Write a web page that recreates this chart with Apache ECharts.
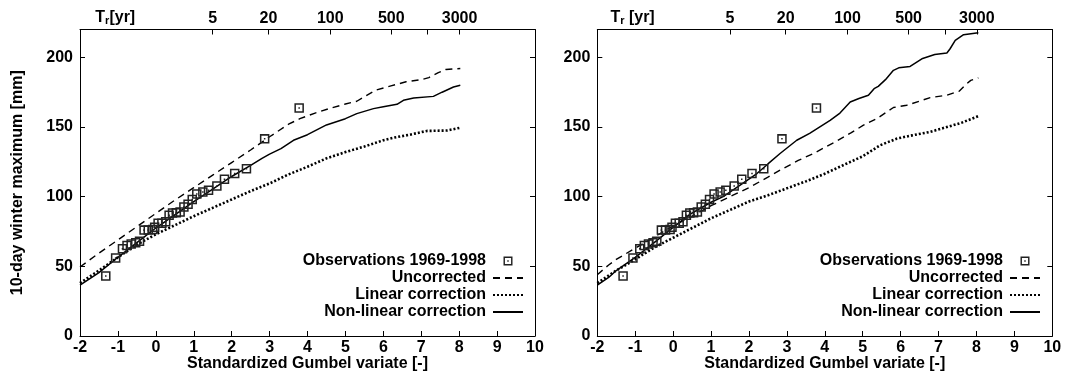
<!DOCTYPE html>
<html>
<head>
<meta charset="utf-8">
<script src="https://cdn.jsdelivr.net/npm/echarts@6/dist/echarts.min.js"></script>
<style>html,body{margin:0;padding:0;background:#fff}#c{width:1067px;height:382px}</style>
</head>
<body>
<div id="c"></div>
<script>
// ---- data ----
const obsX = [-1.32,-1.06,-0.88,-0.76,-0.65,-0.53,-0.43,-0.31,-0.20,-0.08,-0.03,0.06,0.16,0.26,0.35,0.44,0.54,0.64,0.74,0.85,0.96,1.08,1.24,1.39,1.61,1.81,2.08,2.39,2.87,3.78];
const obsY = [43,56,62.7,65,66,67,68,76,76,76.4,78,81,81,82,86.6,88.3,88.5,89,92.6,94.5,98,102,103.4,104.6,107.7,112.5,116.6,120,141.5,163.7];

const leftUncorrected = [[-2,49.5],[-1.5,59.5],[-1,69],[-0.5,78.5],[0,88],[0.5,97.5],[1,106.5],[1.5,115.5],[2,124.5],[2.5,133.5],[3,143],[3.5,152],[3.8,156],[4.2,160],[4.6,163.5],[5.0,166.5],[5.3,168.5],[5.55,172.5],[5.8,176.5],[6.2,179.5],[6.6,182.5],[7.0,184],[7.2,185.5],[7.45,189],[7.65,191.3],[8.03,192]];
const leftLinear = [[-2,38],[-1.5,47],[-1,56.5],[-0.5,65.5],[0,73],[0.5,79.5],[1,86],[1.5,92],[2,98],[2.5,104],[3,109.5],[3.5,116],[4,121.5],[4.5,127.5],[5,132],[5.5,136],[6,140.5],[6.3,142.5],[6.7,144.5],[7.15,147.2],[7.68,147.5],[8.03,149.5]];
const leftNonLinear = [[-2,36.5],[-1.5,45.5],[-1,56.5],[-0.5,67],[0,77.5],[0.5,87],[1,96.5],[1.5,105.5],[2,114.5],[2.5,122.5],[2.8,127.5],[3,130.5],[3.3,134.5],[3.63,140.5],[4,144.5],[4.5,151.5],[5,156],[5.3,159.6],[5.74,163.2],[6.0,164.5],[6.36,166.3],[6.53,169.2],[6.8,170.8],[7.32,172],[7.55,175],[7.85,178.7],[8.03,180]];

const rightUncorrected = [[-2,44],[-1.7,51],[-1.5,55],[-1,63],[-0.5,71],[0,79],[0.5,86],[1,93.5],[1.5,100],[2,106.5],[2.5,114],[2.82,119],[3.3,126],[3.7,131],[4.32,140],[4.7,146],[5.02,151.3],[5.37,156],[5.81,164],[6.16,165.6],[6.78,171.1],[7.22,172.8],[7.55,175.8],[7.7,180],[7.85,183.5],[8.05,185.3]];
const rightLinear = [[-2,38],[-1.5,47],[-1,55],[-0.5,63.5],[0,70.5],[0.5,77.5],[1,84.5],[1.5,90.5],[2,96.5],[2.5,101],[3,106],[3.5,111],[4,116.5],[4.58,123.8],[5,129],[5.46,136.9],[5.9,141.7],[6.3,144],[6.78,146.5],[7.22,150],[7.6,153],[8.05,157.8]];
const rightNonLinear = [[-2,36.6],[-1.7,42],[-1.5,47],[-1,56.5],[-0.5,67],[0,78],[0.45,87.5],[1,96],[1.32,100],[1.7,107],[2.21,116.6],[2.5,123.5],[2.82,131],[3.26,140.5],[3.6,145.5],[4.14,154.8],[4.4,160],[4.67,168],[4.9,170.5],[5.15,172.8],[5.3,177.5],[5.41,179.2],[5.6,184],[5.81,190.7],[5.95,192.5],[6.25,193.5],[6.56,199],[6.9,202],[7.22,203.1],[7.3,206],[7.44,212.2],[7.66,216.3],[8.05,217.7]];

// return period axis (top)
const trTickPos = [1.50, 2.97, 4.60, 6.21, 7.17, 8.01];
const trLabelPos = [-1.07, 1.50, 2.97, 4.60, 6.21, 8.01];
const trLabels = ['TR', '5', '20', '100', '500', '3000'];
const seriesNames = ['Observations 1969-1998', 'Uncorrected', 'Linear correction', 'Non-linear correction'];

// ---- chart ----
const FONT = '"Liberation Sans", Arial, Helvetica, sans-serif';
const FS = 16;
const txt = { fontFamily: FONT, fontSize: FS, fontWeight: 'bold', color: '#000' };
const obsSymbol = 'path://M0 0H10V10H0Z M1.6 1.6V8.4H8.4V1.6Z M4.2 4.2H5.8V5.8H4.2Z';

const grids = [
  { left: 80, top: 29.5, width: 455, height: 306.5 },
  { left: 597.3, top: 29.5, width: 455, height: 306.5 }
];

const xAxes = [], yAxes = [], series = [];
[0, 1].forEach(function (g) {
  xAxes.push({
    type: 'value', gridIndex: g, position: 'bottom', min: -2, max: 10, interval: 1,
    name: 'Standardized Gumbel variate [-]', nameLocation: 'middle', nameGap: 20,
    nameMoveOverlap: false,
    nameTextStyle: txt,
    axisLine: { onZero: false, lineStyle: { color: '#000', width: 1 } },
    axisTick: { inside: true, length: 5, lineStyle: { color: '#000' } },
    axisLabel: Object.assign({ margin: 4 }, txt),
    splitLine: { show: false }
  });
  xAxes.push({
    type: 'value', gridIndex: g, position: 'top', min: -2, max: 10,
    axisLine: { onZero: false, lineStyle: { color: '#000', width: 1 } },
    axisTick: { inside: true, length: 5, customValues: trTickPos, lineStyle: { color: '#000' } },
    axisLabel: Object.assign({
      margin: 3,
      customValues: trLabelPos,
      formatter: function (v) {
        let i = trLabelPos.findIndex(function (p) { return Math.abs(p - v) < 1e-6; });
        if (i < 0) return '';
        if (i === 0) return g === 0 ? '{t|T}{s|r}{t|[yr]}' : '{t|T}{s|r}{t| [yr]}';
        return trLabels[i];
      },
      rich: {
        t: { fontFamily: FONT, fontSize: FS, fontWeight: 'bold', color: '#000' },
        s: { fontFamily: FONT, fontSize: 11, fontWeight: 'bold', color: '#000', padding: [7, 0, 0, 0] }
      }
    }, txt),
    splitLine: { show: false }
  });
  yAxes.push({
    type: 'value', gridIndex: g, position: 'left', min: 0, max: 220, interval: 50,
    name: g === 0 ? '10-day winter maximum [mm]' : '', nameLocation: 'middle', nameGap: 54,
    nameMoveOverlap: false,
    nameTextStyle: txt,
    axisLine: { onZero: false, lineStyle: { color: '#000', width: 1 } },
    axisTick: { inside: true, length: 5, lineStyle: { color: '#000' } },
    axisLabel: Object.assign({ margin: 7, showMaxLabel: false }, txt),
    splitLine: { show: false }
  });
  yAxes.push({
    type: 'value', gridIndex: g, position: 'right', min: 0, max: 220, interval: 50,
    axisLine: { onZero: false, lineStyle: { color: '#000', width: 1 } },
    axisTick: { inside: true, length: 5, lineStyle: { color: '#000' } },
    axisLabel: { show: false },
    splitLine: { show: false }
  });
});

const panelData = [
  [leftUncorrected, leftLinear, leftNonLinear],
  [rightUncorrected, rightLinear, rightNonLinear]
];
const lineStyles = [
  { color: '#000', width: 1.4, type: [7, 5] },
  { color: '#000', width: 2.6, type: [2, 2] },
  { color: '#000', width: 1.5, type: 'solid' }
];
[0, 1].forEach(function (g) {
  for (let k = 0; k < 3; k++) {
    series.push({
      type: 'line', name: seriesNames[k + 1], xAxisIndex: 2 * g, yAxisIndex: 2 * g,
      data: panelData[g][k], symbol: 'none', showSymbol: false, smooth: false,
      lineStyle: lineStyles[k], itemStyle: { color: '#000' }, z: 2, silent: true
    });
  }
  series.push({
    type: 'scatter', name: seriesNames[0], xAxisIndex: 2 * g, yAxisIndex: 2 * g,
    data: obsX.map(function (x, i) { return [x, obsY[i]]; }),
    symbol: obsSymbol, symbolSize: 9.5, symbolKeepAspect: true,
    itemStyle: { color: '#222', opacity: 1 }, z: 5, silent: true
  });
});

const hiddenDot = { color: 'rgba(0,0,0,0)', borderColor: 'rgba(0,0,0,0)', borderWidth: 0 };
function legendFor(right) {
  return {
    orient: 'vertical', align: 'right', right: right, top: 252.5, padding: 0,
    itemWidth: 30, itemHeight: 9, itemGap: 0, selectedMode: false,
    data: [
      { name: seriesNames[0] },
      { name: seriesNames[1], itemStyle: hiddenDot },
      { name: seriesNames[2], itemStyle: hiddenDot },
      { name: seriesNames[3], itemStyle: hiddenDot }
    ],
    textStyle: Object.assign({ lineHeight: 17, padding: [0, 2, 0, 0] }, txt)
  };
}

const chart = echarts.init(document.getElementById('c'), null, { renderer: 'canvas' });
chart.setOption({
  animation: false,
  backgroundColor: '#fff',
  grid: grids,
  xAxis: xAxes,
  yAxis: yAxes,
  legend: [legendFor(543), legendFor(26)],
  series: series
});
</script>
</body>
</html>
